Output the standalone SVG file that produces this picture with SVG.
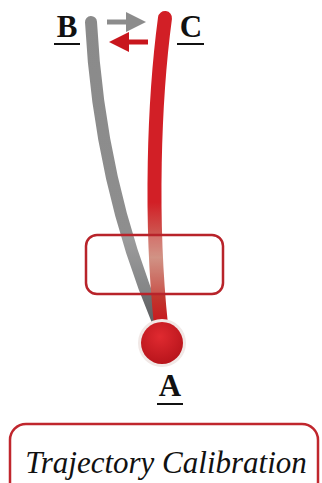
<svg xmlns="http://www.w3.org/2000/svg" width="322" height="483" viewBox="0 0 322 483">
<defs>
<style>
.lbl{font-family:"Liberation Serif",serif;font-weight:bold;font-size:31px;fill:#111}
.ul{stroke:#111;stroke-width:2}
</style>
<linearGradient id="redfade" x1="0" y1="0" x2="0" y2="1">
<stop offset="0" stop-color="#d21f26"/>
<stop offset="0.6" stop-color="#d21f26"/>
<stop offset="0.78" stop-color="#c98070"/>
<stop offset="0.9" stop-color="#c0392f"/>
<stop offset="1" stop-color="#c8161d"/>
</linearGradient>
<linearGradient id="grayfade" x1="0" y1="0" x2="0" y2="1">
<stop offset="0" stop-color="#8a8a8a"/>
<stop offset="0.7" stop-color="#8e8e8e"/>
<stop offset="1" stop-color="#5f6163"/>
</linearGradient>
<radialGradient id="ball" cx="0.45" cy="0.35" r="0.7">
<stop offset="0" stop-color="#e02a30"/>
<stop offset="1" stop-color="#b5131a"/>
</radialGradient>
<marker id="ahg" markerWidth="4" markerHeight="4" refX="2" refY="2" orient="auto" markerUnits="strokeWidth"><path d="M0,0 L4,2 L0,4 Z" fill="#8c8c8c"/></marker>
<marker id="ahr" markerWidth="4" markerHeight="4" refX="2" refY="2" orient="auto" markerUnits="strokeWidth"><path d="M0,0 L4,2 L0,4 Z" fill="#c8161d"/></marker>
</defs>
<rect width="322" height="483" fill="#fff"/>
<g id="connectors">
<path d="M91,22 C96,120 115,220 158,322" fill="none" stroke="url(#grayfade)" stroke-width="12" stroke-linecap="round"/>
<path d="M165,18 C154,100 150,220 161,325" fill="none" stroke="url(#redfade)" stroke-width="14" stroke-linecap="round"/>
<line x1="107" y1="22" x2="136" y2="22" stroke="#8c8c8c" stroke-width="5" marker-end="url(#ahg)"/>
<line x1="148" y1="42" x2="119" y2="42" stroke="#c8161d" stroke-width="5" marker-end="url(#ahr)"/>
</g>
<g id="window">
<rect x="86" y="235" width="137" height="59" rx="11" fill="#fff" fill-opacity="0.15" stroke="#b8232a" stroke-width="2.5"/>
</g>
<g id="nodeA">
<circle cx="162" cy="343" r="24" fill="#f1e8e6"/>
<circle cx="162" cy="343" r="21" fill="url(#ball)"/>
<text class="lbl" x="170" y="396" text-anchor="middle">A</text>
<line class="ul" x1="157" y1="404" x2="183" y2="404"/>
</g>
<g id="nodeB">
<text class="lbl" x="67" y="37" text-anchor="middle">B</text>
<line class="ul" x1="54" y1="44" x2="80" y2="44"/>
</g>
<g id="nodeC">
<text class="lbl" x="191" y="37" text-anchor="middle">C</text>
<line class="ul" x1="177" y1="44" x2="204" y2="44"/>
</g>
<g id="title">
<rect x="10" y="424" width="308" height="80" rx="16" fill="#fff" stroke="#c0262d" stroke-width="2.5"/>
<text x="166" y="473" text-anchor="middle" font-family="'Liberation Serif',serif" font-style="italic" font-size="31" fill="#111">Trajectory Calibration</text>
</g>
</svg>
